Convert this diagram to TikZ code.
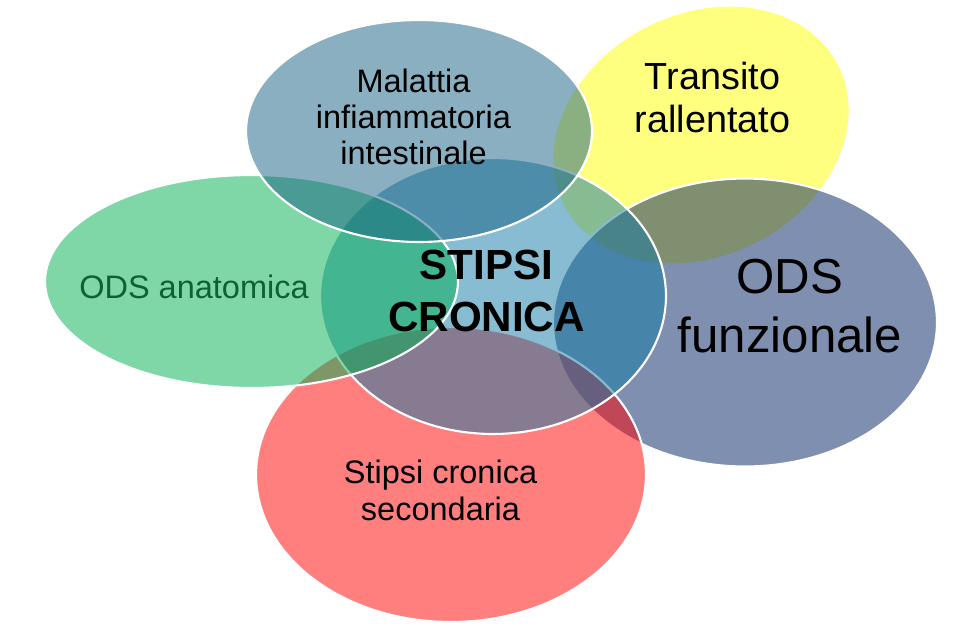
\documentclass[tikz,border=0pt]{standalone}
\usepackage{fontspec}
\setmainfont{Liberation Sans}
\usetikzlibrary{shapes.geometric}
\definecolor{ibdBlue}{RGB}{21,96,130}
\definecolor{coreBlue}{RGB}{17,121,165}
\definecolor{slowYellow}{RGB}{255,255,0}
\definecolor{odsfBlue}{RGB}{0,32,96}
\definecolor{odsaGreen}{RGB}{0,176,80}
\definecolor{secRed}{RGB}{255,0,0}
\definecolor{odsaText}{RGB}{12,98,50}
\tikzset{
	blob/.style = {ellipse, draw=white, line width=1.2pt, fill opacity=0.5, inner sep=0pt},
	txt/.style  = {align=center, anchor=north, inner sep=0pt, text=black},
	body/.style = {txt, font=\fontsize{18.5}{20.7}\selectfont}
}

\begin{document}
\begin{tikzpicture}[x=0.02cm, y=-0.02cm]
		\useasboundingbox (0,0) rectangle (977,627);
		\node[blob, fill=slowYellow, minimum width=6.2cm,  minimum height=4.88cm, rotate=27] (slow) at (701,135)   {};
		\node[blob, fill=odsfBlue,   minimum width=7.68cm, minimum height=5.76cm] (odsf) at (745,322.5) {};
		\node[blob, fill=secRed,     minimum width=7.8cm,  minimum height=5.9cm]  (sec)  at (451,474.5) {};
		\node[blob, fill=coreBlue,   minimum width=6.92cm, minimum height=5.52cm] (core) at (493,296)   {};
		\node[blob, fill=odsaGreen,  minimum width=8.26cm, minimum height=4.26cm] (odsa) at (251.5,281.5) {};
		\node[blob, fill=ibdBlue,    minimum width=6.92cm, minimum height=4.44cm] (ibd)  at (419,131)   {};

		\node[body] (ibdT) at (413.5,68.3) {Malattia\\infiammatoria\\intestinale};
		\node[txt, font=\fontsize{21.5}{24.4}\selectfont] (slowT) at (712.5,62) {Transito\\rallentato};
		\node[txt, font=\fontsize{28}{33.4}\selectfont] (odsfT) at (790,259) {ODS\\funzionale};
		\node[txt, font=\bfseries\fontsize{24}{29.5}\selectfont] (coreT) at (486.5,250) {STIPSI\\CRONICA};
		\node[body, text=odsaText] (odsaT) at (194,275) {ODS anatomica};
		\node[body] (secT) at (440.5,460) {Stipsi cronica\\secondaria};
	\end{tikzpicture}
\end{document}
